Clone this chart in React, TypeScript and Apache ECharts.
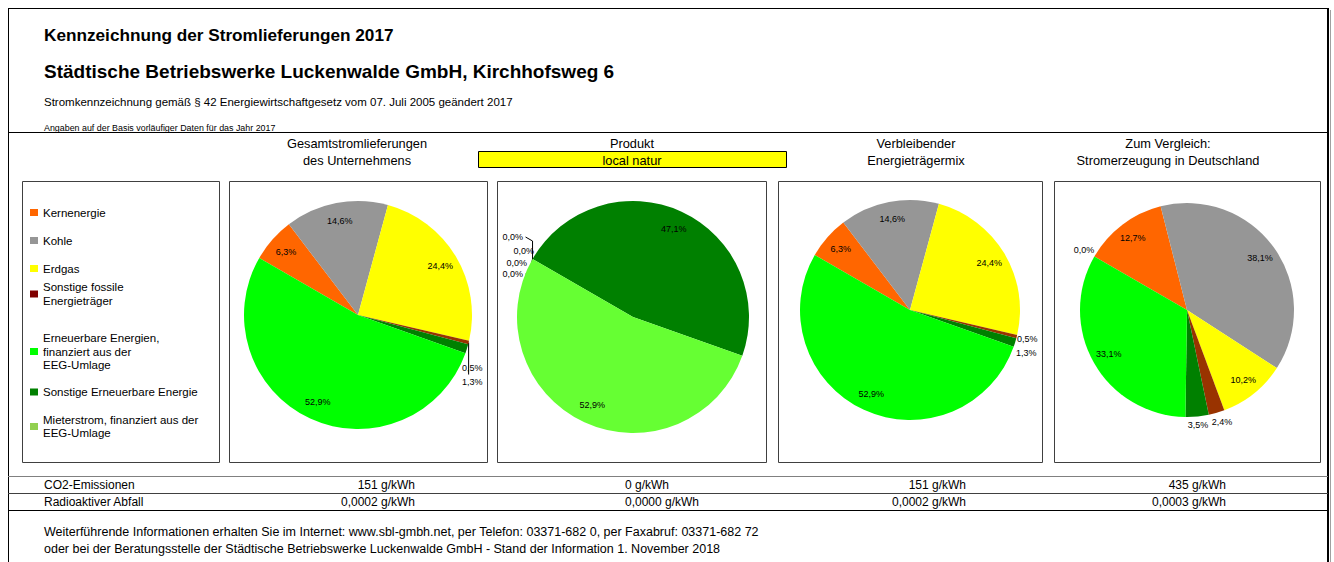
import React, { useEffect, useRef } from 'react';
import * as echarts from 'echarts';

const FONT = '"Liberation Sans", Arial, Helvetica, sans-serif';

// ---------- texts ----------
const titleLine1 = 'Kennzeichnung der Stromlieferungen 2017';
const titleLine2 = 'Städtische Betriebswerke Luckenwalde GmbH, Kirchhofsweg 6';
const subtitle = 'Stromkennzeichnung gemäß § 42 Energiewirtschaftgesetz vom 07. Juli 2005 geändert 2017';
const note = 'Angaben auf der Basis vorläufiger Daten für das Jahr 2017';

// ---------- categories (pie order, clockwise from the first slice) ----------
const categories = [
  'Kernenergie',
  'Kohle',
  'Erdgas',
  'Sonstige fossile\nEnergieträger',
  'Sonstige Erneuerbare Energie',
  'Erneuerbare Energien,\nfinanziert aus der\nEEG-Umlage',
  'Mieterstrom, finanziert aus der\nEEG-Umlage',
];
// legend order (indices into categories)
const legendOrder = [0, 1, 2, 3, 5, 4, 6];

// ---------- values in percent (null = no entry) ----------
const gesamtValues: (number | null)[] = [6.3, 14.6, 24.4, 0.5, 1.3, 52.9, null];
const produktValues: (number | null)[] = [0.0, 0.0, 0.0, 0.0, 47.1, null, 52.9];
const verbleibendValues: (number | null)[] = [6.3, 14.6, 24.4, 0.5, 1.3, 52.9, null];
const deutschlandValues: (number | null)[] = [12.7, 38.1, 10.2, 2.4, 3.5, 33.1, 0.0];
const pieValues = [gesamtValues, produktValues, verbleibendValues, deutschlandValues];

const columnTitles = [
  ['Gesamtstromlieferungen', 'des Unternehmens'],
  ['Produkt'],
  ['Verbleibender', 'Energieträgermix'],
  ['Zum Vergleich:', 'Stromerzeugung in Deutschland'],
];
const productName = 'local natur';

const rowLabels = ['CO2-Emissionen', 'Radioaktiver Abfall'];
const co2Values = [151, 0, 151, 435];
const wasteValues = [0.0002, 0.0, 0.0002, 0.0003];
const unit = 'g/kWh';

const footerLines = [
  'Weiterführende Informationen erhalten Sie im Internet: www.sbl-gmbh.net, per Telefon: 03371-682 0, per Faxabruf: 03371-682 72',
  'oder bei der Beratungsstelle der Städtische Betriebswerke Luckenwalde GmbH - Stand der Information 1. November 2018',
];

// ---------- styles ----------
const sliceColors = ['#FF6600', '#969696', '#FFFF00', '#993300', '#008000', '#00FF00', '#66FF33'];
const legendColors = ['#FF6600', '#969696', '#FFFF00', '#800000', '#008000', '#00FF00', '#92D050'];

// ---------- layout ----------
const FIRST_SLICE_ANGLE = 300; // Excel "angle of first slice"
const START_ANGLE = 90 - FIRST_SLICE_ANGLE + 360;
const LABEL_RADIUS = 0.84;

type Outside = { dx: number; dy: number; align: string; line?: number[][] };
const pieLayout: { center: number[]; r: number; outside: Record<number, Outside> }[] = [
  {
    center: [358, 315], r: 114,
    outside: {
      3: { dx: -6.6, dy: 25.5, align: 'left', line: [[0, 0], [0, 32]] },
      4: { dx: -5, dy: 33, align: 'left' },
    },
  },
  {
    center: [633, 317], r: 116,
    outside: {
      0: { dx: -9.5, dy: -22, align: 'right', line: [[0, 0], [0, -18], [-7, -22]] },
      1: { dx: 1.5, dy: -8, align: 'right' },
      2: { dx: -5.5, dy: 4, align: 'right' },
      3: { dx: -9.5, dy: 15, align: 'right', line: [[0, 0], [-3, 14], [-7, 15]] },
    },
  },
  {
    center: [910, 310], r: 110,
    outside: {
      3: { dx: 0.3, dy: 2.5, align: 'left' },
      4: { dx: 1, dy: 10.5, align: 'left' },
    },
  },
  {
    center: [1187, 310], r: 107,
    outside: {
      3: { dx: 5.4, dy: 9, align: 'center' },
      4: { dx: 0.8, dy: 8, align: 'center' },
      6: { dx: 0, dy: -6.5, align: 'right' },
    },
  },
];

const legendBox = [22, 181, 197, 281];
const pieBoxes = [
  [229, 181, 258, 281],
  [497, 181, 269, 281],
  [778, 181, 264, 281],
  [1054, 181, 266, 281],
];
const columnCenters = [357, 632, 916, 1168];
const legendCenters = [212.5, 240.5, 268.5, 294, 351.5, 392, 426.5];
const LEGEND_LH = 13.5;
const tableCols: { x: number; align: string }[] = [
  { x: 415, align: 'right' },
  { x: 625, align: 'left' },
  { x: 966, align: 'right' },
  { x: 1226, align: 'right' },
];

function midAngle(vals: (number | null)[], i: number) {
  const v = vals.map((x) => x ?? 0);
  const total = v.reduce((a, b) => a + b, 0);
  const before = v.slice(0, i).reduce((a, b) => a + b, 0);
  return ((START_ANGLE - ((before + v[i] / 2) / total) * 360) * Math.PI) / 180;
}

const pct = (v: number) => v.toFixed(1).replace('.', ',') + '%';

function text(x: number, y: number, t: string, o: any = {}) {
  return {
    type: 'text',
    silent: true,
    style: {
      text: t,
      x,
      y,
      fill: '#000',
      fontFamily: FONT,
      fontSize: o.size ?? 12,
      fontWeight: o.weight ?? 'normal',
      align: o.align ?? 'left',
      verticalAlign: 'middle',
    },
  };
}
function hline(y: number, x1: number, x2: number, color = '#000', w = 1) {
  return { type: 'line', silent: true, shape: { x1, y1: y, x2, y2: y }, style: { stroke: color, lineWidth: w } };
}
function vline(x: number, y1: number, y2: number, color = '#000', w = 1) {
  return { type: 'line', silent: true, shape: { x1: x, y1, x2: x, y2 }, style: { stroke: color, lineWidth: w } };
}
function box(b: number[]) {
  return {
    type: 'rect',
    silent: true,
    shape: { x: b[0] + 0.5, y: b[1] + 0.5, width: b[2], height: b[3] },
    style: { fill: '#fff', stroke: '#404040', lineWidth: 1 },
  };
}

function buildOption() {
  const elements: any[] = [];
  // frame
  elements.push(hline(8.5, 8, 1328));
  elements.push(vline(8.5, 8, 562));
  elements.push(vline(1328, 8, 562, '#000', 2));
  elements.push(vline(1330.5, 10, 562, '#a0a0a0', 1));
  elements.push(hline(132.5, 8, 1328));
  elements.push(hline(476.5, 8, 1328, '#808080'));
  elements.push(hline(493.5, 8, 1328, '#404040'));
  elements.push(hline(510.5, 8, 1328, '#000'));

  // header texts
  elements.push(text(44, 35, titleLine1, { size: 17.2, weight: 'bold' }));
  elements.push(text(44, 71, titleLine2, { size: 19, weight: 'bold' }));
  elements.push(text(44, 102, subtitle, { size: 11.5 }));
  elements.push(text(44, 127.5, note, { size: 8.9 }));

  // column titles
  columnTitles.forEach((lines, c) => {
    lines.forEach((l, k) =>
      elements.push(text(columnCenters[c], 143 + k * 17, l, { align: 'center', size: 12.8 }))
    );
  });
  elements.push({
    type: 'rect',
    silent: true,
    shape: { x: 478.5, y: 151.5, width: 308, height: 16 },
    style: { fill: '#FFFF00', stroke: '#000', lineWidth: 1 },
  });
  elements.push(text(columnCenters[1], 160, productName, { align: 'center', size: 12.8 }));

  // boxes
  elements.push(box(legendBox));
  pieBoxes.forEach((b) => elements.push(box(b)));

  // table
  rowLabels.forEach((l, r) => elements.push(text(44, 485 + r * 17, l)));
  co2Values.forEach((v, c) =>
    elements.push(text(tableCols[c].x, 485, `${v} ${unit}`, { align: tableCols[c].align }))
  );
  wasteValues.forEach((v, c) =>
    elements.push(
      text(tableCols[c].x, 502, `${v.toFixed(4).replace('.', ',')} ${unit}`, { align: tableCols[c].align })
    )
  );

  // footer
  footerLines.forEach((l, k) => elements.push(text(44, 532 + k * 17, l, { size: 12.5 })));

  const legends = legendOrder.map((ci, k) => {
    const lines = categories[ci].split('\n').length;
    return {
      show: true,
      left: 30,
      top: legendCenters[k] - (lines * LEGEND_LH) / 2,
      orient: 'vertical',
      padding: 0,
      itemGap: 0,
      itemWidth: 8,
      itemHeight: 7,
      icon: 'rect',
      selectedMode: false,
      textStyle: { fontFamily: FONT, fontSize: 11.5, color: '#000', lineHeight: LEGEND_LH },
      data: [{ name: categories[ci], itemStyle: { color: legendColors[ci] } }],
    };
  });

  const series = pieValues.map((vals, s) => {
    const L = pieLayout[s];
    return {
      type: 'pie',
      name: 'pie' + s,
      center: L.center,
      radius: L.r,
      startAngle: START_ANGLE,
      clockwise: true,
      avoidLabelOverlap: false,
      silent: true,
      emphasis: { disabled: true },
      itemStyle: { borderWidth: 0 },
      label: {
        show: true,
        position: 'outside',
        fontFamily: FONT,
        fontSize: 9,
        color: '#000',
        formatter: (p: any) => pct(p.value),
      },
      labelLine: {
        show: false,
        length: 4,
        length2: 0,
        smooth: false,
        lineStyle: { color: '#000', width: 1 },
      },
      labelLayout: (params: any) => {
        const i = params.dataIndex;
        const [cx, cy] = L.center;
        const a = midAngle(vals, i);
        const cos = Math.cos(a);
        const sin = Math.sin(a);
        const o = L.outside[i];
        if (!o) {
          return {
            x: cx + LABEL_RADIUS * L.r * cos,
            y: cy - LABEL_RADIUS * L.r * sin,
            align: 'center',
            verticalAlign: 'middle',
          };
        }
        const ex = cx + L.r * cos;
        const ey = cy - L.r * sin;
        const res: any = { x: ex + o.dx, y: ey + o.dy, align: o.align, verticalAlign: 'middle' };
        if (o.line) res.labelLinePoints = o.line.map(([px, py]) => [ex + px, ey + py]);
        return res;
      },
      data: categories.map((name, i) => ({
        name,
        value: vals[i] ?? 0,
        itemStyle: { color: sliceColors[i] },
        label: { show: vals[i] !== null },
        labelLine: { show: !!(L.outside[i] && L.outside[i].line) },
      })),
    };
  });

  return {
    animation: false,
    backgroundColor: '#ffffff',
    legend: legends,
    graphic: { elements },
    series,
  };
}

export default function App() {
  const ref = useRef<HTMLDivElement>(null);
  useEffect(() => {
    if (!ref.current) return;
    const chart = echarts.init(ref.current, null, { renderer: 'svg' });
    chart.setOption(buildOption() as any);
    return () => chart.dispose();
  }, []);
  return (
    <div
      ref={ref}
      style={{ position: 'absolute', left: 0, top: 0, width: 1334, height: 562, background: '#fff' }}
    />
  );
}
